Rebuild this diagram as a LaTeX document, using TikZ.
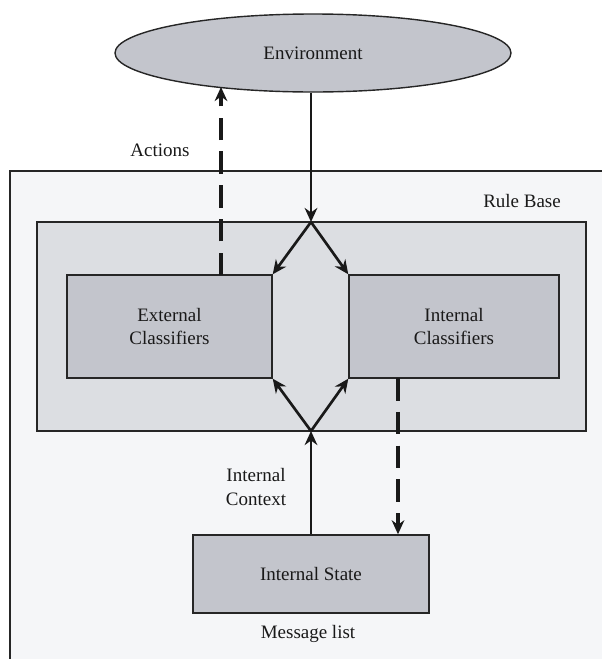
\documentclass[tikz,border=0pt]{standalone}
\usepackage{fontspec}
\setmainfont{Liberation Serif}
\usetikzlibrary{arrows.meta,shapes.geometric}
\definecolor{paleback}{HTML}{F5F6F8}
\definecolor{rulegray}{HTML}{DCDEE2}
\definecolor{boxgray}{HTML}{C3C5CC}
\tikzset{
	box/.style={draw=black!85, line width=1pt, fill=boxgray, align=center, inner sep=0pt},
	lbl/.style={align=center, inner sep=0pt},
	flow/.style={line width=1.9pt, -{Stealth[length=10pt,width=9pt]}},
	dashflow/.style={line width=2.6pt, dash pattern=on 16pt off 8pt, -{Stealth[length=10pt,width=9pt]}}
}

\begin{document}
\begin{tikzpicture}[x=0.025cm, y=-0.025cm, font=\fontsize{13.5}{16.5}\selectfont, text=black!90, black!90]
		%%%%% START %%%%%
		\useasboundingbox (0, 0) rectangle (602, 659);
		
		% outer frame, open to the right and bottom
		\fill[paleback] (10, 171) rectangle (602, 659);
		\draw[line width=1pt, black!85] (602, 171) -- (10, 171) -- (10, 659);
		
		\node[draw=black!85, line width=1pt, fill=rulegray, minimum width=549*0.025cm, minimum height=209*0.025cm, inner sep=0pt] (rulebase) at (311.5, 326.5) {};
		
		\node[box, ellipse, minimum width=396*0.025cm, minimum height=78*0.025cm] (env) at (313, 53) {Environment};
		
		\node[box, minimum width=205*0.025cm, minimum height=103*0.025cm] (ext) at (169.5, 326.5) {External\\Classifiers};
		\node[box, minimum width=210*0.025cm, minimum height=103*0.025cm] (int) at (454, 326.5) {Internal\\Classifiers};
		\node[box, minimum width=236*0.025cm, minimum height=78*0.025cm] (state) at (311, 574) {Internal State};
		
		\node[lbl] (actions) at (160, 150) {Actions};
		\node[lbl] (rbtitle) at (522, 201) {Rule Base};
		\node[lbl] (context) at (256, 487) {Internal\\Context};
		\node[lbl] (msglist) at (308, 634) {Message list};
		
		\coordinate (top) at (311, 222);
		\coordinate (bot) at (311, 431);
		\coordinate (acttail) at (221, 275);
		\coordinate (acttip) at (221, 87);
		\coordinate (feedtail) at (398, 378);
		
		% input from the environment, split to both classifier sets
		\draw[flow] (top |- env.south) -- (top);
		\draw[flow] (top) -- (ext.north east);
		\draw[flow] (top) -- (int.north west);
		
		% internal context fed back from the message list
		\draw[flow] (state.north -| bot) -- (bot);
		\draw[flow] (bot) -- (ext.south east);
		\draw[flow] (bot) -- (int.south west);
		
		\draw[dashflow] (acttail) -- (acttip);
		\draw[dashflow] (feedtail) -- (feedtail |- state.north);
		%%%%% END %%%%%
\end{tikzpicture}
\end{document}
